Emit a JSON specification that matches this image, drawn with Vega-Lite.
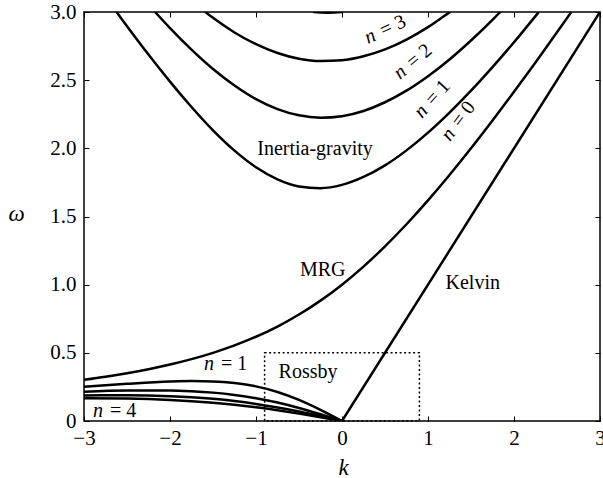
{
  "$schema": "https://vega.github.io/schema/vega-lite/v6.json",
  "width": 516,
  "height": 409,
  "autosize": "none",
  "padding": {"left": 84, "top": 12, "right": 3, "bottom": 57},
  "background": "white",
  "config": {
    "view": {"stroke": "black", "strokeWidth": 1.5},
    "font": "Liberation Serif",
    "style": {"guide-label": {"font": "Liberation Serif"}, "guide-title": {"font": "Liberation Serif"}},
    "axis": {
      "domain": false,
      "grid": false,
      "tickColor": "black",
      "tickSize": -5,
      "tickWidth": 1,
      "labelFont": "Liberation Serif",
      "labelFontSize": 21,
      "labelColor": "black",
      "titleFont": "Liberation Serif",
      "titleFontSize": 23,
      "titleFontStyle": "italic",
      "titleFontWeight": "normal",
      "titleColor": "black"
    }
  },
  "datasets": {
    "curves": [
      {"c": "kelvin", "k": 0, "w": 0}, {"c": "kelvin", "k": 3, "w": 3},
      {"c": "mrg", "k": -3, "w": 0.3028}, {"c": "mrg", "k": -2.75, "w": 0.3252}, {"c": "mrg", "k": -2.5, "w": 0.3508}, {"c": "mrg", "k": -2.25, "w": 0.3802},
      {"c": "mrg", "k": -2, "w": 0.4142}, {"c": "mrg", "k": -1.75, "w": 0.4538}, {"c": "mrg", "k": -1.5, "w": 0.5}, {"c": "mrg", "k": -1.25, "w": 0.5542},
      {"c": "mrg", "k": -1, "w": 0.618}, {"c": "mrg", "k": -0.75, "w": 0.693}, {"c": "mrg", "k": -0.5, "w": 0.7808}, {"c": "mrg", "k": -0.25, "w": 0.8828},
      {"c": "mrg", "k": 0, "w": 1}, {"c": "mrg", "k": 0.25, "w": 1.1328}, {"c": "mrg", "k": 0.5, "w": 1.2808}, {"c": "mrg", "k": 0.75, "w": 1.443},
      {"c": "mrg", "k": 1, "w": 1.618}, {"c": "mrg", "k": 1.25, "w": 1.8042}, {"c": "mrg", "k": 1.5, "w": 2.0}, {"c": "mrg", "k": 1.75, "w": 2.2038},
      {"c": "mrg", "k": 2, "w": 2.4142}, {"c": "mrg", "k": 2.25, "w": 2.6302}, {"c": "mrg", "k": 2.5, "w": 2.8508}, {"c": "mrg", "k": 2.6667, "w": 3.0},
      {"c": "ig1", "k": -2.6218, "w": 3}, {"c": "ig1", "k": -2.5, "w": 2.896}, {"c": "ig1", "k": -2.25, "w": 2.688}, {"c": "ig1", "k": -2, "w": 2.489},
      {"c": "ig1", "k": -1.75, "w": 2.303}, {"c": "ig1", "k": -1.5, "w": 2.132}, {"c": "ig1", "k": -1.25, "w": 1.983}, {"c": "ig1", "k": -1, "w": 1.861},
      {"c": "ig1", "k": -0.75, "w": 1.772}, {"c": "ig1", "k": -0.5, "w": 1.72}, {"c": "ig1", "k": -0.25, "w": 1.708}, {"c": "ig1", "k": 0, "w": 1.732},
      {"c": "ig1", "k": 0.25, "w": 1.79}, {"c": "ig1", "k": 0.5, "w": 1.875}, {"c": "ig1", "k": 0.75, "w": 1.985}, {"c": "ig1", "k": 1, "w": 2.115},
      {"c": "ig1", "k": 1.25, "w": 2.262}, {"c": "ig1", "k": 1.5, "w": 2.423}, {"c": "ig1", "k": 1.75, "w": 2.596}, {"c": "ig1", "k": 2, "w": 2.778},
      {"c": "ig1", "k": 2.25, "w": 2.97}, {"c": "ig1", "k": 2.2885, "w": 3},
      {"c": "ig2", "k": -2.1736, "w": 3}, {"c": "ig2", "k": -2, "w": 2.882}, {"c": "ig2", "k": -1.75, "w": 2.724}, {"c": "ig2", "k": -1.5, "w": 2.582},
      {"c": "ig2", "k": -1.25, "w": 2.461}, {"c": "ig2", "k": -1, "w": 2.361}, {"c": "ig2", "k": -0.75, "w": 2.288}, {"c": "ig2", "k": -0.5, "w": 2.242},
      {"c": "ig2", "k": -0.25, "w": 2.225}, {"c": "ig2", "k": 0, "w": 2.236}, {"c": "ig2", "k": 0.25, "w": 2.274}, {"c": "ig2", "k": 0.5, "w": 2.338},
      {"c": "ig2", "k": 0.75, "w": 2.423}, {"c": "ig2", "k": 1, "w": 2.529}, {"c": "ig2", "k": 1.25, "w": 2.652}, {"c": "ig2", "k": 1.5, "w": 2.791},
      {"c": "ig2", "k": 1.75, "w": 2.942}, {"c": "ig2", "k": 1.8403, "w": 3},
      {"c": "ig3", "k": -1.5907, "w": 3}, {"c": "ig3", "k": -1.5, "w": 2.957}, {"c": "ig3", "k": -1.25, "w": 2.85}, {"c": "ig3", "k": -1, "w": 2.764},
      {"c": "ig3", "k": -0.75, "w": 2.699}, {"c": "ig3", "k": -0.5, "w": 2.657}, {"c": "ig3", "k": -0.25, "w": 2.64}, {"c": "ig3", "k": 0, "w": 2.646},
      {"c": "ig3", "k": 0.25, "w": 2.675}, {"c": "ig3", "k": 0.5, "w": 2.726}, {"c": "ig3", "k": 0.75, "w": 2.798}, {"c": "ig3", "k": 1, "w": 2.889},
      {"c": "ig3", "k": 1.25, "w": 2.997}, {"c": "ig3", "k": 1.2573, "w": 3},
      {"c": "ig4", "k": -0.3333, "w": 3}, {"c": "ig4", "k": -0.25, "w": 2.9965}, {"c": "ig4", "k": -0.1667, "w": 2.9954}, {"c": "ig4", "k": -0.0833, "w": 2.9965}, {"c": "ig4", "k": 0, "w": 3},
      {"c": "r1", "k": -3, "w": 0.2513}, {"c": "r1", "k": -2.5, "w": 0.2725}, {"c": "r1", "k": -2, "w": 0.2892}, {"c": "r1", "k": -1.75, "w": 0.2928},
      {"c": "r1", "k": -1.5, "w": 0.2904}, {"c": "r1", "k": -1.25, "w": 0.2787}, {"c": "r1", "k": -1, "w": 0.2541}, {"c": "r1", "k": -0.75, "w": 0.2132},
      {"c": "r1", "k": -0.5, "w": 0.155}, {"c": "r1", "k": -0.25, "w": 0.0818}, {"c": "r1", "k": -0.125, "w": 0.0415}, {"c": "r1", "k": 0, "w": 0},
      {"c": "r2", "k": -3, "w": 0.215}, {"c": "r2", "k": -2.5, "w": 0.2232}, {"c": "r2", "k": -2, "w": 0.2235}, {"c": "r2", "k": -1.75, "w": 0.2183},
      {"c": "r2", "k": -1.5, "w": 0.2081}, {"c": "r2", "k": -1.25, "w": 0.1915}, {"c": "r2", "k": -1, "w": 0.1674}, {"c": "r2", "k": -0.75, "w": 0.1353},
      {"c": "r2", "k": -0.5, "w": 0.0954}, {"c": "r2", "k": -0.25, "w": 0.0494}, {"c": "r2", "k": -0.125, "w": 0.0249}, {"c": "r2", "k": 0, "w": 0},
      {"c": "r3", "k": -3, "w": 0.1879}, {"c": "r3", "k": -2.5, "w": 0.1892}, {"c": "r3", "k": -2, "w": 0.1824}, {"c": "r3", "k": -1.75, "w": 0.1744},
      {"c": "r3", "k": -1.5, "w": 0.1626}, {"c": "r3", "k": -1.25, "w": 0.1464}, {"c": "r3", "k": -1, "w": 0.1252}, {"c": "r3", "k": -0.75, "w": 0.0993},
      {"c": "r3", "k": -0.5, "w": 0.069}, {"c": "r3", "k": -0.25, "w": 0.0354}, {"c": "r3", "k": -0.125, "w": 0.0178}, {"c": "r3", "k": 0, "w": 0},
      {"c": "r4", "k": -3, "w": 0.1669}, {"c": "r4", "k": -2.5, "w": 0.1642}, {"c": "r4", "k": -2, "w": 0.1541}, {"c": "r4", "k": -1.75, "w": 0.1453},
      {"c": "r4", "k": -1.5, "w": 0.1335}, {"c": "r4", "k": -1.25, "w": 0.1185}, {"c": "r4", "k": -1, "w": 0.1001}, {"c": "r4", "k": -0.75, "w": 0.0785},
      {"c": "r4", "k": -0.5, "w": 0.0541}, {"c": "r4", "k": -0.25, "w": 0.0276}, {"c": "r4", "k": -0.125, "w": 0.0139}, {"c": "r4", "k": 0, "w": 0}
    ],
    "names": [
      {"t": "Inertia-gravity", "k": -0.314, "w": 1.951},
      {"t": "MRG", "k": -0.224, "w": 1.064},
      {"t": "Kelvin", "k": 1.52, "w": 0.968},
      {"t": "Rossby", "k": -0.395, "w": 0.315}
    ],
    "nlabels": [
      {"id": "n3", "a": "n", "b": "= 3", "k": 0.302, "w": 2.765},
      {"id": "n2", "a": "n", "b": "= 2", "k": 0.674, "w": 2.501},
      {"id": "n1", "a": "n", "b": "= 1", "k": 0.93, "w": 2.215},
      {"id": "n0", "a": "n", "b": "= 0", "k": 1.256, "w": 2.047},
      {"id": "flat", "a": "n", "b": "= 1", "k": -1.605, "w": 0.374},
      {"id": "flat", "a": "n", "b": "= 4", "k": -2.895, "w": 0.029}
    ]
  },
  "layer": [
    {
      "encoding": {
        "x": {
          "field": "k", "type": "quantitative",
          "scale": {"domain": [-3, 3], "nice": false, "zero": false},
          "axis": {"orient": "bottom", "values": [-3, -2, -1, 0, 1, 2, 3], "labelFont": "Liberation Serif", "titleFont": "Liberation Serif", "labelFlush": false, "labelPadding": 11, "title": "k", "titleX": 259, "titleY": 53, "titleBaseline": "alphabetic", "titleAlign": "center"}
        },
        "y": {
          "field": "w", "type": "quantitative",
          "scale": {"domain": [0, 3], "nice": false, "zero": false},
          "axis": {"orient": "left", "values": [0, 0.5, 1, 1.5, 2, 2.5, 3], "labelFont": "Liberation Serif", "titleFont": "Liberation Serif", "labelExpr": "datum.value == 0 ? '0' : format(datum.value, '.1f')", "labelFlush": false, "labelPadding": 13, "title": "ω", "titleAngle": 0, "titleX": -68, "titleY": 208, "titleAlign": "center", "titleBaseline": "alphabetic"}
        }
      },
      "layer": [
        {
          "data": {"name": "curves"},
          "mark": {"type": "line", "color": "black", "strokeWidth": 2.5, "interpolate": "monotone", "clip": true},
          "encoding": {"detail": {"field": "c"}}
        },
        {
          "data": {"name": "names"},
          "mark": {"type": "text", "font": "Liberation Serif", "fontSize": 20, "color": "black", "align": "center", "baseline": "alphabetic"},
          "encoding": {"text": {"field": "t"}}
        },
        {
          "data": {"name": "nlabels"}, "transform": [{"filter": "datum.id == 'flat'"}],
          "mark": {"type": "text", "font": "Liberation Serif", "fontStyle": "italic", "fontSize": 20, "color": "black", "align": "left", "baseline": "alphabetic"},
          "encoding": {"text": {"field": "a"}}
        },
        {
          "data": {"name": "nlabels"}, "transform": [{"filter": "datum.id == 'flat'"}],
          "mark": {"type": "text", "font": "Liberation Serif", "fontSize": 20, "color": "black", "align": "left", "baseline": "alphabetic", "dx": 17},
          "encoding": {"text": {"field": "b"}}
        },
        {
          "data": {"name": "nlabels"}, "transform": [{"filter": "datum.id == 'n3'"}],
          "mark": {"type": "text", "font": "Liberation Serif", "fontStyle": "italic", "fontSize": 20, "color": "black", "align": "left", "baseline": "alphabetic", "angle": -25},
          "encoding": {"text": {"field": "a"}}
        },
        {
          "data": {"name": "nlabels"}, "transform": [{"filter": "datum.id == 'n3'"}],
          "mark": {"type": "text", "font": "Liberation Serif", "fontSize": 20, "color": "black", "align": "left", "baseline": "alphabetic", "angle": -25, "dx": 17},
          "encoding": {"text": {"field": "b"}}
        },
        {
          "data": {"name": "nlabels"}, "transform": [{"filter": "datum.id == 'n2'"}],
          "mark": {"type": "text", "font": "Liberation Serif", "fontStyle": "italic", "fontSize": 20, "color": "black", "align": "left", "baseline": "alphabetic", "angle": -40},
          "encoding": {"text": {"field": "a"}}
        },
        {
          "data": {"name": "nlabels"}, "transform": [{"filter": "datum.id == 'n2'"}],
          "mark": {"type": "text", "font": "Liberation Serif", "fontSize": 20, "color": "black", "align": "left", "baseline": "alphabetic", "angle": -40, "dx": 17},
          "encoding": {"text": {"field": "b"}}
        },
        {
          "data": {"name": "nlabels"}, "transform": [{"filter": "datum.id == 'n1'"}],
          "mark": {"type": "text", "font": "Liberation Serif", "fontStyle": "italic", "fontSize": 20, "color": "black", "align": "left", "baseline": "alphabetic", "angle": -48},
          "encoding": {"text": {"field": "a"}}
        },
        {
          "data": {"name": "nlabels"}, "transform": [{"filter": "datum.id == 'n1'"}],
          "mark": {"type": "text", "font": "Liberation Serif", "fontSize": 20, "color": "black", "align": "left", "baseline": "alphabetic", "angle": -48, "dx": 17},
          "encoding": {"text": {"field": "b"}}
        },
        {
          "data": {"name": "nlabels"}, "transform": [{"filter": "datum.id == 'n0'"}],
          "mark": {"type": "text", "font": "Liberation Serif", "fontStyle": "italic", "fontSize": 20, "color": "black", "align": "left", "baseline": "alphabetic", "angle": -53},
          "encoding": {"text": {"field": "a"}}
        },
        {
          "data": {"name": "nlabels"}, "transform": [{"filter": "datum.id == 'n0'"}],
          "mark": {"type": "text", "font": "Liberation Serif", "fontSize": 20, "color": "black", "align": "left", "baseline": "alphabetic", "angle": -53, "dx": 17},
          "encoding": {"text": {"field": "b"}}
        }
      ]
    },
    {
      "data": {"values": [{"k": -0.9, "k2": 0.9, "w": 0, "w2": 0.5}]},
      "mark": {"type": "rect", "filled": false, "stroke": "black", "strokeWidth": 1.5, "strokeDash": [2, 2.5]},
      "encoding": {
        "x": {"field": "k", "type": "quantitative", "scale": {"domain": [-3, 3], "nice": false, "zero": false},
              "axis": {"orient": "top", "values": [-3, -2, -1, 0, 1, 2, 3], "labels": false, "title": null}},
        "x2": {"field": "k2"},
        "y": {"field": "w", "type": "quantitative", "scale": {"domain": [0, 3], "nice": false, "zero": false},
              "axis": {"orient": "right", "values": [0, 0.5, 1, 1.5, 2, 2.5, 3], "labels": false, "title": null}},
        "y2": {"field": "w2"}
      }
    }
  ],
  "resolve": {"axis": {"x": "independent", "y": "independent"}}
}
